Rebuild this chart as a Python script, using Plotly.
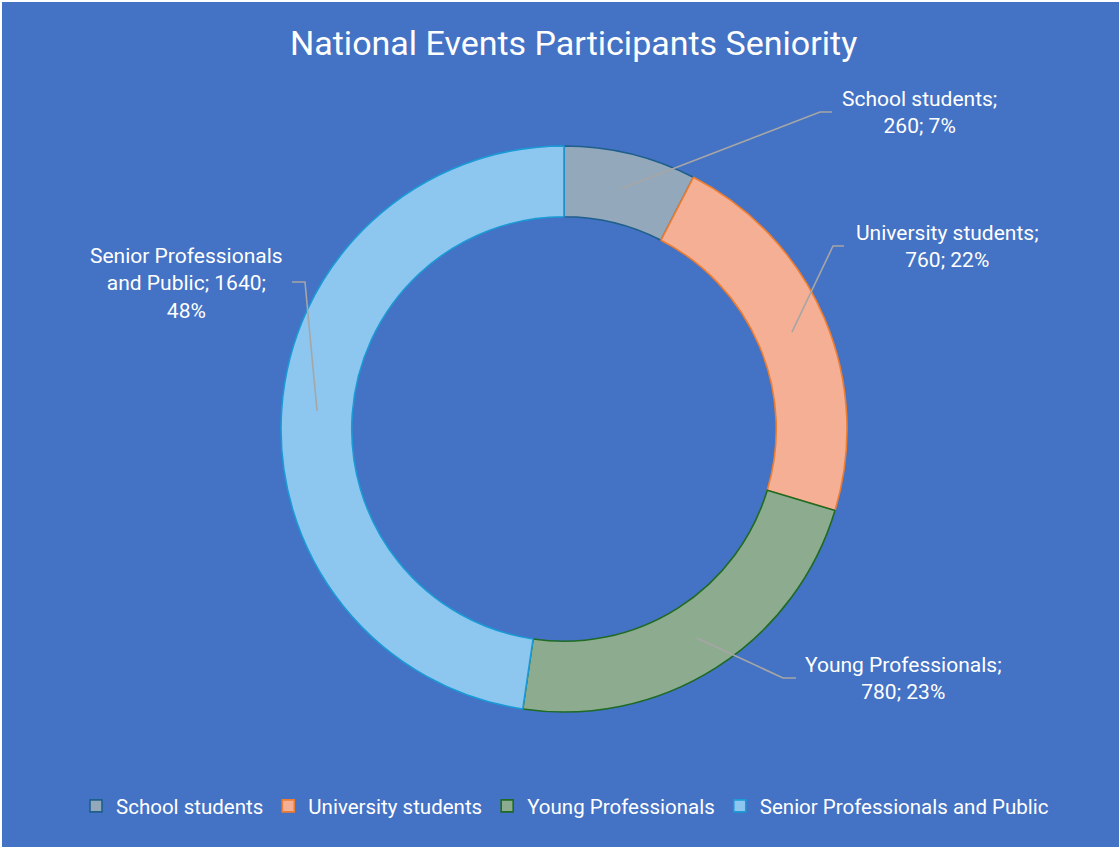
import math
import plotly.graph_objects as go

# ---- data ----
categories = ["School students", "University students", "Young Professionals",
              "Senior Professionals and Public"]
values = [260, 760, 780, 1640]
pct_labels = ["7%", "22%", "23%", "48%"]
label_texts = ["School students;<br>260; 7%",
               "University students;<br>760; 22%",
               "Young Professionals;<br>780; 23%",
               "Senior Professionals<br>and Public; 1640;<br>48%"]

# ---- styles ----
W, H = 1119, 847
BG = "#4472C4"
fill_colors = ["#93A8BA", "#F4AF94", "#8DAB8E", "#8DC6EF"]
line_colors = ["#1F5F8B", "#ED7D31", "#1E6B24", "#1A9AD6"]
FONT = "Roboto"

cx, cy, R = 564, 429, 283          # pixel geometry of the ring
HOLE = 0.75

# label layout: (text centre x, text centre y, elbow x, elbow y, end x, end y) in px
label_layout = [
    (919, 112, 820, 112, 832, 112),
    (947, 246, 833, 246, 844, 246),
    (903, 678, 783, 678, 796, 678),
    (186, 284, 305, 282, 292, 282),
]

def px(x):
    return x / W

def py(y):
    return 1 - y / H

fig = go.Figure(go.Pie(
    labels=categories, values=values, hole=HOLE, sort=False,
    direction="clockwise", rotation=0, textinfo="none",
    marker=dict(colors=fill_colors, line=dict(color=line_colors, width=1.6)),
    domain=dict(x=[px(cx - R), px(cx + R)], y=[py(cy + R), py(cy - R)]),
    hoverinfo="label+value+percent",
))

# leader lines: start point derived from the data (slice mid-angle, mid-ring radius)
total = sum(values)
cum = 0
r_mid = R * (1 + HOLE) / 2
shapes = [dict(type="rect", xref="paper", yref="paper", x0=px(2), x1=1, y0=0, y1=py(2),
               fillcolor=BG, line=dict(width=0), layer="below")]
annotations = []
for i, v in enumerate(values):
    ang = 2 * math.pi * (cum + v / 2) / total
    cum += v
    sx = cx + r_mid * math.sin(ang)
    sy = cy - r_mid * math.cos(ang)
    tx, ty, ex, ey, enx, eny = label_layout[i]
    path = f"M {px(sx)},{py(sy)} L {px(ex)},{py(ey)} L {px(enx)},{py(eny)}"
    shapes.append(dict(type="path", xref="paper", yref="paper", path=path,
                       line=dict(color="#A6A6A6", width=1.6)))
    annotations.append(dict(text=label_texts[i], x=px(tx), y=py(ty), xref="paper",
                            yref="paper", showarrow=False, xanchor="center",
                            yanchor="middle", align="center",
                            font=dict(family=FONT, size=21, color="white")))

annotations.append(dict(text="National Events Participants Seniority", x=px(573),
                        y=py(43), xref="paper", yref="paper", showarrow=False,
                        xanchor="center", yanchor="middle",
                        font=dict(family=FONT, size=34, color="white")))

fig.update_layout(
    width=W, height=H,
    margin=dict(l=0, r=0, t=0, b=0),
    paper_bgcolor="white", plot_bgcolor=BG,
    shapes=shapes, annotations=annotations,
    showlegend=True,
    legend=dict(orientation="h", x=px(565), xanchor="center", y=py(806),
                yanchor="middle", font=dict(family=FONT, size=20.5, color="white"),
                bgcolor="rgba(0,0,0,0)", itemwidth=30, traceorder="normal"),
)

fig.write_html("out.html", config={"displayModeBar": False},
               post_script="document.body.style.margin='0';")
